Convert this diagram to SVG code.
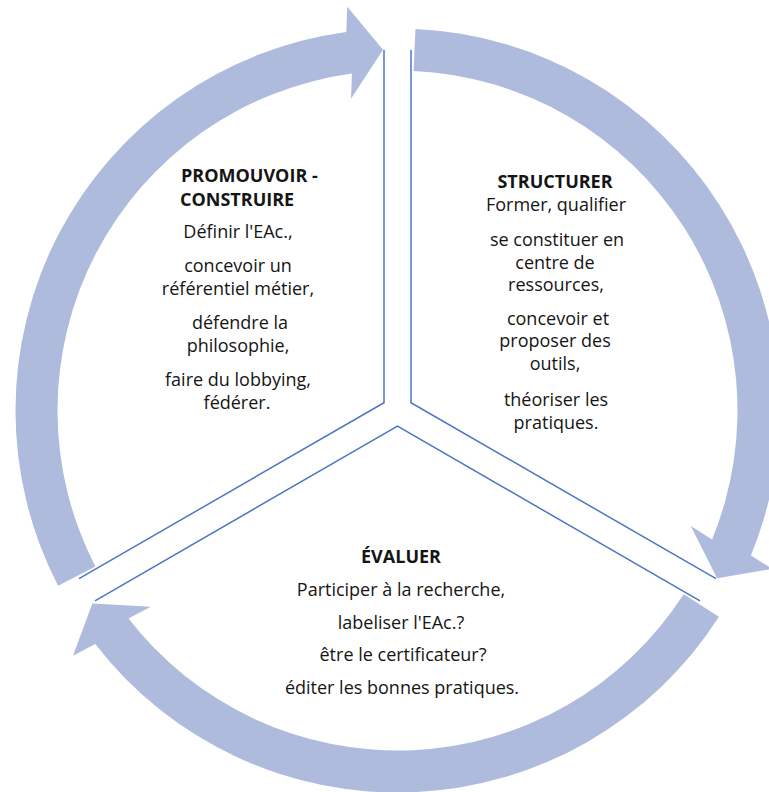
<svg xmlns="http://www.w3.org/2000/svg" width="769" height="792" viewBox="0 0 769 792">
<defs>
<style>
.arrow{fill:#AEBBDD;stroke:none}
.edge{fill:none;stroke:#4A77C6;stroke-width:1.5}
text{font-family:"Open Sans","Noto Sans","DejaVu Sans",sans-serif;font-size:18px;fill:#151515}
.h{font-weight:bold}
.c{text-anchor:middle}
</style>
<path id="arrowShape" d="M 58.05 585.70 A 382 382 0 0 1 346.32 31.95 L 347.28 6.80 L 383.01 49.79 L 350.98 98.72 L 351.94 73.57 A 340 340 0 0 0 95.37 566.44 Z"/>
</defs>
<rect width="769" height="792" fill="#fff"/>
<g id="connectors">
<use href="#arrowShape" class="arrow"/>
<use href="#arrowShape" class="arrow" transform="rotate(120 397.5 410.5)"/>
<use href="#arrowShape" class="arrow" transform="rotate(240 397.5 410.5)"/>
</g>
<g id="node-promouvoir">
<path class="edge" d="M384 50 V402.7 L79 578.7"/>
<text class="h" x="181" y="181.5">PROMOUVOIR -</text>
<text class="h" x="180" y="206">CONSTRUIRE</text>
<text class="c" x="238" y="238">Définir l'EAc.,</text>
<text class="c" x="238" y="272">concevoir un</text>
<text class="c" x="238" y="295">référentiel métier,</text>
<text class="c" x="240" y="329">défendre la</text>
<text class="c" x="238" y="352">philosophie,</text>
<text class="c" x="238" y="386">faire du lobbying,</text>
<text class="c" x="237" y="409">fédérer.</text>
</g>
<g id="node-structurer">
<path class="edge" d="M411 50 V402.7 L716 578.7"/>
<text class="h c" x="555" y="188">STRUCTURER</text>
<text class="c" x="556" y="210.5">Former, qualifier</text>
<text class="c" x="557" y="246">se constituer en</text>
<text class="c" x="555" y="268.5">centre de</text>
<text class="c" x="556" y="291">ressources,</text>
<text class="c" x="558" y="324.5">concevoir et</text>
<text class="c" x="555" y="347">proposer des</text>
<text class="c" x="555" y="369.5">outils,</text>
<text class="c" x="556" y="406">théoriser les</text>
<text class="c" x="556" y="428.5">pratiques.</text>
</g>
<g id="node-evaluer">
<path class="edge" d="M95 600.8 L397.5 426.1 L700 600.8"/>
<text class="h c" x="401" y="563">ÉVALUER</text>
<text class="c" x="401" y="596">Participer à la recherche,</text>
<text class="c" x="401" y="629">labeliser l'EAc.?</text>
<text class="c" x="403" y="661">être le certificateur?</text>
<text class="c" x="402" y="694">éditer les bonnes pratiques.</text>
</g>
</svg>
